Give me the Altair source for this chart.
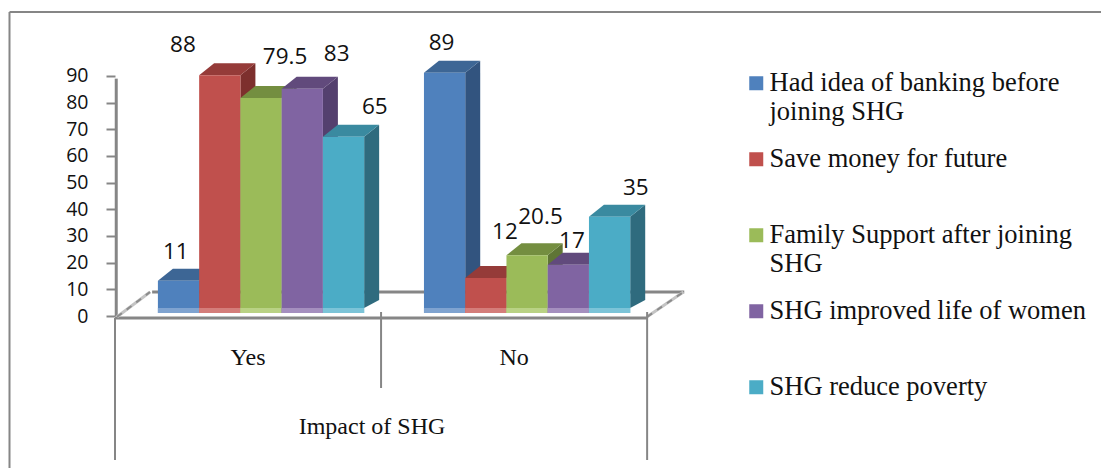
import altair as alt
import pandas as pd

# Survey results, in percent of respondents
series_names = [
    "Had idea of banking before joining SHG",
    "Save money for future",
    "Family Support after joining SHG",
    "SHG improved life of women",
    "SHG reduce poverty",
]
legend_lines = {
    "Had idea of banking before joining SHG": "Had idea of banking before|joining SHG",
    "Family Support after joining SHG": "Family Support after joining|SHG",
}
answers = ["Yes", "No"]
yes_values = [11, 88, 79.5, 83, 65]
no_values = [89, 12, 20.5, 17, 35]
y_ticks = [0, 10, 20, 30, 40, 50, 60, 70, 80, 90]
axis_title = "Impact of SHG"

front_colors = ["#4F81BD", "#C0504D", "#9BBB59", "#8064A2", "#4BACC6"]
top_colors = ["#3D6695", "#953B39", "#748E40", "#614A7C", "#3A8AA0"]
side_colors = ["#32547F", "#7D2F2D", "#5F7535", "#54406E", "#2F6B7E"]
floor_colors = ["#7FA3D0", "#D47D7A", "#B9D284", "#A58FBF", "#7CC4D8"]

# Scale geometry: one x unit is one bar width, one y unit is one percent
W, H = 1101, 468
PX_PER_SLOT = 41.25
PX_PER_UNIT = 2.667
ORIGIN_X, ORIGIN_Y = 115, 316
GROUP_SPAN, GROUP_LEAD = 6.45, 1.04
DEPTH_X = 15 / PX_PER_SLOT
DEPTH_Y = 12 / PX_PER_UNIT
FACE_SHIFT = -6
GRAY = "#868686"
SERIF = "Liberation Serif"
SANS = "Open Sans"

x_scale = alt.Scale(domain=[-ORIGIN_X / PX_PER_SLOT, (W - ORIGIN_X) / PX_PER_SLOT], nice=False, zero=False)
y_scale = alt.Scale(domain=[(ORIGIN_Y - H) / PX_PER_UNIT, ORIGIN_Y / PX_PER_UNIT], nice=False, zero=False)

# Value axis: real ticks and labels, shifted in to the floor's left corner
y_axis = alt.Axis(values=y_ticks, domain=False, grid=False, tickColor=GRAY, tickWidth=2, tickSize=9, offset=-ORIGIN_X,
                  labelFont=SANS, labelFontSize=19.5, labelColor="#111111", labelPadding=18, title=None)

# Where each data label sits relative to the top-centre of its bar, in pixels
label_nudges = {
    (0, 0): (-2.7, -35), (0, 1): (-36.8, -36.3), (0, 2): (24, -47.3), (0, 3): (34.4, -40.3), (0, 4): (31.3, -35.4),
    (1, 0): (-3.1, -35.9), (1, 1): (19.1, -51.7), (1, 2): (13.4, -44.6), (1, 3): (3.6, -30), (1, 4): (26.2, -35),
}

rows = []
for g, values in enumerate([yes_values, no_values]):
    for s, v in enumerate(values):
        left = g * GROUP_SPAN + GROUP_LEAD + s
        nx, ny = label_nudges[(g, s)]
        rows.append(dict(group=answers[g], g=g, s=s, series=series_names[s], value=v, left=left, right=left + 1,
                         label_x=left + 0.5 + nx / PX_PER_SLOT, label_y=v - ny / PX_PER_UNIT, label=f"{v:g}"))
bars = pd.DataFrame(rows)

x_q = lambda f: alt.X(f"{f}:Q", scale=x_scale, axis=None)
y_q = lambda f: alt.Y(f"{f}:Q", scale=y_scale, axis=y_axis)


def side_face(frame):
    pts = []
    for r in frame.itertuples():
        pts.append(dict(key=r.g, x=r.right, top=r.value, bottom=0.75))
        pts.append(dict(key=r.g, x=r.right + DEPTH_X, top=r.value + DEPTH_Y, bottom=3.75))
    return pd.DataFrame(pts)


def top_face(frame):
    pts = []
    for r in frame.itertuples():
        back = r.value + DEPTH_Y
        pts.append(dict(key=r.g, x=r.left, top=r.value, bottom=r.value))
        pts.append(dict(key=r.g, x=r.left + DEPTH_X, top=back, bottom=r.value))
        pts.append(dict(key=r.g, x=r.right, top=back, bottom=r.value))
        pts.append(dict(key=r.g, x=r.right + DEPTH_X, top=back, bottom=back))
    return pd.DataFrame(pts)


layers = []

# Vertical wall edge of the value axis
layers.append(
    alt.Chart(pd.DataFrame({"y0": [0], "y1": [89], "x0": [0.03]})).mark_rule(color=GRAY, strokeWidth=3).encode(
        x=x_q("x0"), y=y_q("y0"), y2="y1:Q")
)

# Floor outline: front edge, back edge and the two receding sides
span_right = 2 * GROUP_SPAN
floor_edges = pd.DataFrame({
    "x": [0, 0.9],
    "x2": [span_right, span_right + 0.9],
    "y": [-0.75, 9],
    "y2": [-0.75, 9],
})
floor_sides = pd.DataFrame({
    "x": [0.05, span_right],
    "x2": [0.85, span_right + 0.88],
    "y": [-0.3, -0.3],
    "y2": [9, 9],
})
layers.append(
    alt.Chart(floor_edges).mark_rule(color=GRAY, strokeWidth=3).encode(
        x=x_q("x"), x2="x2:Q", y=y_q("y"), y2="y2:Q")
)
layers.append(
    alt.Chart(floor_sides).mark_rule(color="#C4C4C4", strokeWidth=3).encode(
        x=x_q("x"), x2="x2:Q", y=y_q("y"), y2="y2:Q")
)
layers.append(
    alt.Chart(floor_sides).mark_rule(color="#8C8C8C", strokeWidth=2, strokeDash=[6, 6]).encode(
        x=x_q("x"), x2="x2:Q", y=y_q("y"), y2="y2:Q")
)

# Category dividers hanging below the floor
dividers = pd.DataFrame({
    "x": [0, GROUP_SPAN, span_right],
    "y": [-0.75, 1.5, 1.5],
    "y2": [-54, -27, -54],
})
layers.append(
    alt.Chart(dividers).mark_rule(color=GRAY, strokeWidth=2).encode(x=x_q("x"), y=y_q("y"), y2="y2:Q")
)

# Columns are painted left to right so each one overlaps its neighbour's side face
for s, name in enumerate(series_names):
    frame = bars[bars.s == s]
    layers.append(
        alt.Chart(side_face(frame)).mark_area(color=side_colors[s], yOffset=FACE_SHIFT, y2Offset=FACE_SHIFT).encode(
            x=x_q("x"), y=y_q("top"), y2="bottom:Q", detail="key:N")
    )
    layers.append(
        alt.Chart(top_face(frame)).mark_area(color=top_colors[s], yOffset=FACE_SHIFT, y2Offset=FACE_SHIFT).encode(
            x=x_q("x"), y=y_q("top"), y2="bottom:Q", detail="key:N")
    )
    layers.append(
        alt.Chart(frame.assign(base=0)).mark_rect(yOffset=FACE_SHIFT, y2Offset=-3).encode(
            x=x_q("left"), x2="right:Q", y=y_q("value"), y2="base:Q",
            color=alt.Color(
                "series:N",
                scale=alt.Scale(domain=series_names, range=front_colors),
                legend=alt.Legend(
                    orient="none", legendX=743, legendY=50, title=None, columns=1,
                    symbolType="square", symbolSize=196, symbolStrokeWidth=0, symbolOpacity=1,
                    labelFont=SERIF, labelFontSize=26.5, labelColor="#111111", labelOffset=0, labelLimit=340,
                    gridAlign="all", clipHeight=66.5, rowPadding=0, padding=0,
                    labelExpr="split(" + " || ".join(
                        f"(datum.label === '{k}' && '{v}')" for k, v in legend_lines.items()
                    ) + " || datum.label, '|')",
                ),
            ),
        )
    )
    layers.append(
        alt.Chart(frame.assign(base=0)).mark_rect(color=floor_colors[s], yOffset=-8, y2Offset=-3).encode(
            x=x_q("left"), x2="right:Q", y=y_q("base"), y2="base:Q")
    )

# Data labels
layers.append(
    alt.Chart(bars).mark_text(font=SANS, fontSize=22.5, color="#111111").encode(
        x=x_q("label_x"), y=y_q("label_y"), text="label:N")
)

# Category and axis-title text
cats = pd.DataFrame({
    "x": [GROUP_SPAN / 2, GROUP_SPAN * 1.5, GROUP_SPAN - 0.22],
    "y": [-15.75, -15.75, -41.6],
    "t": answers + [axis_title],
})
layers.append(
    alt.Chart(cats).mark_text(font=SERIF, fontSize=24, color="#111111").encode(
        x=x_q("x"), y=y_q("y"), text="t:N")
)

# Outer frame: only the top and left edges are in view
layers.append(
    alt.Chart(pd.DataFrame({"k": [0]})).mark_rule(color=GRAY, strokeWidth=2).encode(
        x=alt.value(9.5), x2=alt.value(W), y=alt.value(12))
)
layers.append(
    alt.Chart(pd.DataFrame({"k": [0]})).mark_rule(color=GRAY, strokeWidth=2).encode(
        x=alt.value(9.5), y=alt.value(12), y2=alt.value(H))
)

chart = alt.layer(*layers).properties(
    width=W, height=H, padding=0, background="white", autosize=alt.AutoSizeParams(type="none")
).configure_view(stroke=None)

chart.save("out.html", embed_options={"renderer": "svg", "actions": False})
